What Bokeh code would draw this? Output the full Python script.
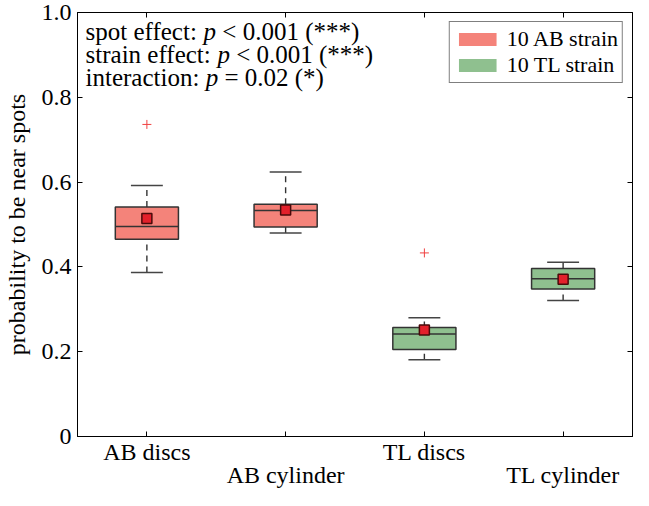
from bokeh.plotting import figure
from bokeh.models import (ColumnDataSource, FixedTicker, LinearAxis, Range1d,
                          Legend, LegendItem, Label, CDSView, GroupFilter)
from bokeh.transform import dodge
from bokeh.embed import file_html
from bokeh.resources import INLINE

# ---------------- data ----------------
categories = ["AB discs", "AB cylinder", "TL discs", "TL cylinder"]
strain = ["AB", "AB", "TL", "TL"]
lower_whisker = [0.387, 0.480, 0.181, 0.321]
q1 = [0.465, 0.494, 0.205, 0.348]
median = [0.495, 0.533, 0.242, 0.372]
q3 = [0.541, 0.548, 0.257, 0.396]
upper_whisker = [0.592, 0.624, 0.280, 0.411]
means = [0.514, 0.534, 0.251, 0.371]
outlier_category = ["AB discs", "TL discs"]
outlier_value = [0.736, 0.433]
y_ticks = [0, 0.2, 0.4, 0.6, 0.8, 1.0]
y_tick_labels = ["0", "0.2", "0.4", "0.6", "0.8", "1.0"]
legend_labels = ["10 AB strain", "10 TL strain"]
stats_lines = [
    ("spot effect: ", "p", " < 0.001 (***)"),
    ("strain effect: ", "p", " < 0.001 (***)"),
    ("interaction: ", "p", " = 0.02 (*)"),
]

# ---------------- style ----------------
FONT = "Liberation Serif"
AB_COLOR = "#f4837a"
TL_COLOR = "#8fc08f"
EDGE = "#333333"
colors = {"AB": AB_COLOR, "TL": TL_COLOR}
BOX_W = 0.455
CAP_W = 0.23

xs = [i + 1 for i in range(len(categories))]
src = ColumnDataSource(dict(
    x=xs, lower=lower_whisker, q1=q1, med=median, q3=q3, upper=upper_whisker,
    mean=means, color=[colors[s] for s in strain], strain=strain))
out_src = ColumnDataSource(dict(
    x=[categories.index(c) + 1 for c in outlier_category], y=outlier_value))

p = figure(width=633, height=490, x_range=Range1d(0.5, 4.5), y_range=Range1d(0, 1),
           output_backend="svg", toolbar_location=None,
           min_border_left=71, min_border_right=1, min_border_top=12, min_border_bottom=40)
p.xgrid.visible = False
p.ygrid.visible = False
p.outline_line_color = "black"
p.outline_line_width = 1
p.background_fill_color = "white"
p.border_fill_color = "white"

# bottom axis (row 1 labels)
xa = p.xaxis[0]
xa.ticker = FixedTicker(ticks=xs)
xa.major_label_overrides = {1: categories[0], 2: "", 3: categories[2], 4: ""}
xa.major_tick_in = 5
xa.major_tick_out = 0
xa.minor_tick_line_color = None
xa.axis_line_color = "black"
xa.major_tick_line_color = "black"
xa.major_label_standoff = 2
xa.major_label_text_font = FONT
xa.major_label_text_font_size = "24px"
xa.major_label_text_color = "black"

# second row of bottom labels
xb = LinearAxis(ticker=FixedTicker(ticks=[2, 4]),
                major_label_overrides={2: categories[1], 4: categories[3]},
                axis_line_color=None, major_tick_line_color=None,
                minor_tick_line_color=None, major_tick_in=0, major_tick_out=0,
                major_label_standoff=-6, major_label_text_font=FONT,
                major_label_text_font_size="24px", major_label_text_color="black")
p.add_layout(xb, "below")

# left axis
ya = p.yaxis[0]
ya.ticker = FixedTicker(ticks=y_ticks)
ya.major_label_overrides = {t: l for t, l in zip(y_ticks, y_tick_labels)}
ya.major_tick_in = 5
ya.major_tick_out = 0
ya.minor_tick_line_color = None
ya.axis_line_color = "black"
ya.major_tick_line_color = "black"
ya.major_label_standoff = 6
ya.major_label_text_font = FONT
ya.major_label_text_font_size = "24px"
ya.major_label_text_color = "black"
ya.axis_label = "probability to be near spots"
ya.axis_label_text_font = FONT
ya.axis_label_text_font_size = "24px"
ya.axis_label_text_font_style = "normal"
ya.axis_label_text_color = "black"
ya.axis_label_standoff = 9

# top & right axes (ticks only)
xt = LinearAxis(ticker=FixedTicker(ticks=xs), major_label_overrides={x: "" for x in xs},
                major_tick_in=5, major_tick_out=0, minor_tick_line_color=None,
                major_label_standoff=0, major_label_text_font_size="1px")
p.add_layout(xt, "above")
yr = LinearAxis(ticker=FixedTicker(ticks=y_ticks),
                major_label_overrides={t: "" for t in y_ticks},
                major_tick_in=5, major_tick_out=0, minor_tick_line_color=None,
                major_label_standoff=0, major_label_text_font_size="1px")
p.add_layout(yr, "right")

# whiskers
p.segment(x0="x", y0="q3", x1="x", y1="upper", line_color=EDGE, line_width=1.4,
          line_dash="6 5", source=src)
p.segment(x0="x", y0="lower", x1="x", y1="q1", line_color=EDGE, line_width=1.4,
          line_dash="6 5", source=src)
p.segment(x0=dodge("x", -CAP_W / 2), y0="upper", x1=dodge("x", CAP_W / 2), y1="upper",
          line_color="#444444", line_width=1.5, source=src)
p.segment(x0=dodge("x", -CAP_W / 2), y0="lower", x1=dodge("x", CAP_W / 2), y1="lower",
          line_color="#444444", line_width=1.5, source=src)
# box fills per strain (used for the legend swatches)
fill_renderers = []
for s in ["AB", "TL"]:
    view = CDSView(filter=GroupFilter(column_name="strain", group=s))
    fill_renderers.append(p.vbar(x="x", width=BOX_W, bottom="q1", top="q3",
                                 fill_color=colors[s], line_color=None,
                                 source=src, view=view))
# box outlines
p.vbar(x="x", width=BOX_W, bottom="q1", top="q3", fill_color=None,
       line_color=EDGE, line_width=1.5, source=src)
p.segment(x0=dodge("x", -BOX_W / 2), y0="med", x1=dodge("x", BOX_W / 2), y1="med",
          line_color=EDGE, line_width=1.5, source=src)
# means
p.scatter(x="x", y="mean", marker="square", size=10, fill_color="#e3202b",
          line_color="#4a0a0a", line_width=1.5, source=src)
# outliers
p.scatter(x="x", y="y", marker="cross", size=9, line_color="#f04040", line_width=1,
          source=out_src)

legend = Legend(items=[LegendItem(label=legend_labels[0], renderers=[fill_renderers[0]]),
                       LegendItem(label=legend_labels[1], renderers=[fill_renderers[1]])],
                location="top_right", margin=9, padding=4, spacing=0,
                glyph_width=47, glyph_height=16, label_standoff=6,
                label_text_font=FONT, label_text_font_size="22px",
                label_text_color="black", border_line_color="black",
                border_line_width=1, background_fill_color="white",
                background_fill_alpha=1)
p.add_layout(legend)

# statistics text with italic p
W = {' ': 250, 'a': 444, 'b': 500, 'c': 444, 'd': 500, 'e': 444, 'f': 333, 'i': 278,
     'n': 500, 'o': 500, 'p': 500, 'r': 333, 's': 389, 't': 278, ':': 278, '<': 564,
     '=': 564, '0': 500, '1': 500, '2': 500, '.': 250, '(': 333, ')': 333, '*': 500}
FS = 25


def tw(s):
    return sum(W.get(ch, 500) for ch in s) * FS / 1000.0


text_x = 0.558
text_y = [0.955, 0.900, 0.846]
for (a, b, c), ty in zip(stats_lines, text_y):
    off = 0.0
    for part, style in ((a, "normal"), (b, "italic"), (c, "normal")):
        lead = len(part) - len(part.lstrip(" "))
        off += tw(" " * lead)
        txt = part.strip(" ")
        p.add_layout(Label(x=text_x, y=ty, x_offset=off, text=txt, text_font=FONT,
                           text_font_size=f"{FS}px", text_font_style=style,
                           text_baseline="alphabetic", text_align="left",
                           text_color="black"))
        off += tw(part.lstrip(" "))

open("out.html", "w").write(file_html(p, INLINE))
